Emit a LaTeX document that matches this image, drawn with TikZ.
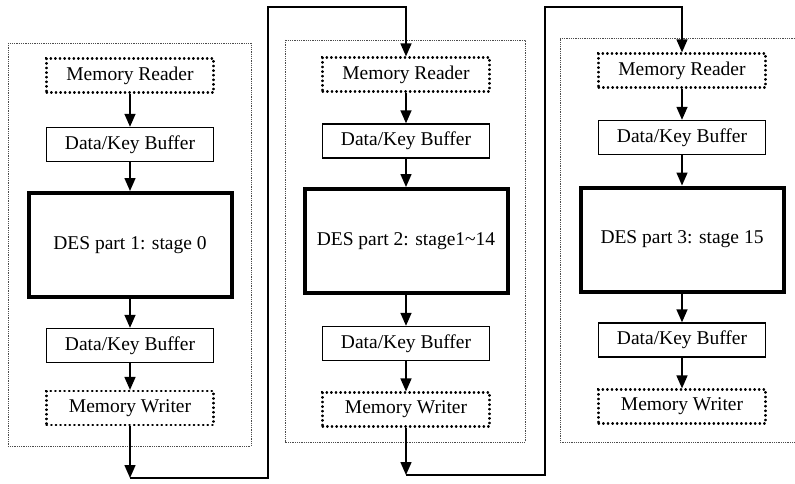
\documentclass[tikz,border=0pt]{standalone}
\usepackage{fontspec}
\setmainfont{Liberation Serif}
\usetikzlibrary{arrows.meta}
\begin{document}
\begin{tikzpicture}[x=1pt,y=-1pt,
  font=\fontsize{19.5}{21}\selectfont,
  panel/.style={draw=black!70,line width=0.7pt,dash pattern=on 1pt off 0.8pt},
  memnode/.style={draw,line width=2.2pt,line cap=round,dash pattern=on 0.6pt off 4pt,
    minimum width=167pt,minimum height=34pt,inner sep=0pt},
  bufnode/.style={draw,line width=1.4pt,minimum width=167pt,minimum height=34pt,inner sep=0pt},
  desnode/.style={draw,line width=4pt,minimum width=203pt,minimum height=104pt,inner sep=0pt},
  link/.style={line width=1.5pt,-{Triangle[length=13pt,width=11pt]}},
  wire/.style={line width=1.5pt}]
\useasboundingbox (0,0) rectangle (795,484);

% group outlines
\draw[panel] (8,43) rectangle (251,446);
\draw[panel] (285,40) rectangle (525,442);
\draw[panel] (797,38) -- (560,38) -- (560,442) -- (797,442);

% first group
\node[memnode] (p1mr)  at (130,75.5)  {Memory Reader};
\node[bufnode] (p1b1)  at (130,144.5) {Data/Key Buffer};
\node[desnode] (p1des) at (130,245)   {DES part 1: stage 0};
\node[bufnode] (p1b2)  at (130,345.5) {Data/Key Buffer};
\node[memnode] (p1mw)  at (130,408)   {Memory Writer};

% second group
\node[memnode] (p2mr)  at (406,74.5)  {Memory Reader};
\node[bufnode] (p2b1)  at (406,141)   {Data/Key Buffer};
\node[desnode] (p2des) at (406,241)   {DES part 2: stage1\textasciitilde14};
\node[bufnode] (p2b2)  at (406,343.5) {Data/Key Buffer};
\node[memnode] (p2mw)  at (406,409.5) {Memory Writer};

% third group
\node[memnode] (p3mr)  at (682,70.5)  {Memory Reader};
\node[bufnode] (p3b1)  at (682,137.5) {Data/Key Buffer};
\node[desnode] (p3des) at (682,239.5) {DES part 3: stage 15};
\node[bufnode] (p3b2)  at (682,340)   {Data/Key Buffer};
\node[memnode] (p3mw)  at (682,406.5) {Memory Writer};

% flow inside each group
\foreach \p in {p1,p2,p3}{
  \draw[link] (\p mr) -- (\p b1);
  \draw[link] (\p b1) -- (\p des);
  \draw[link] (\p des) -- (\p b2);
  \draw[link] (\p b2) -- (\p mw);
}

% hand-over between groups
\coordinate (p1out) at (130,478);
\coordinate (p1top) at (268,7);
\coordinate (p2out) at (406,475);
\coordinate (p2top) at (545,7);
\draw[link] (p1mw) -- (p1out);
\draw[link] (p1out) -| (p1top) -| (p2mr.north);
\draw[link] (p2mw) -- (p2out);
\draw[link] (p2out) -| (p2top) -| (p3mr.north);
\end{tikzpicture}
\end{document}
